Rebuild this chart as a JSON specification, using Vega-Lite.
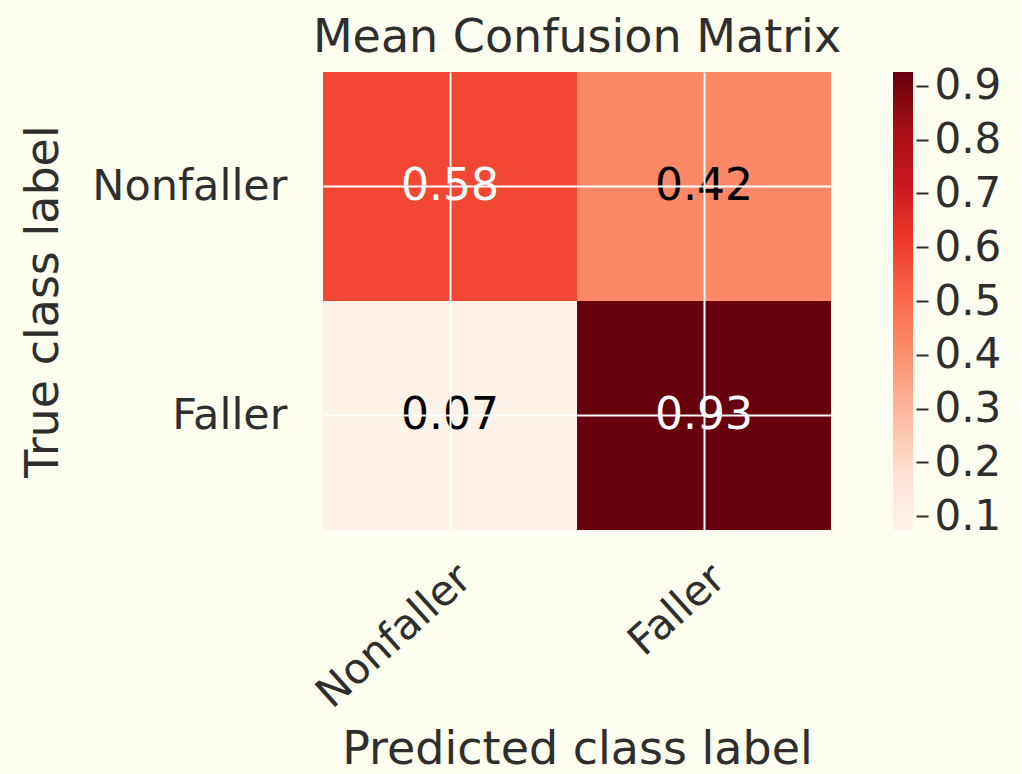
{
  "$schema": "https://vega.github.io/schema/vega-lite/v6.json",
  "background": "#fdfdf0",
  "padding": {"left": 20, "top": 15, "right": 20, "bottom": 4},
  "config": {
    "font": "DejaVu Sans",
    "view": {"stroke": null},
    "axis": {"labelColor": "#2e2e2e", "titleColor": "#2e2e2e", "titleFontWeight": "normal", "labelLimit": 400},
    "title": {"color": "#2e2e2e", "fontWeight": "normal"}
  },
  "datasets": {
    "cm": [
      {"actual": "Nonfaller", "predicted": "Nonfaller", "value": 0.58},
      {"actual": "Nonfaller", "predicted": "Faller", "value": 0.42},
      {"actual": "Faller", "predicted": "Nonfaller", "value": 0.074},
      {"actual": "Faller", "predicted": "Faller", "value": 0.926}
    ],
    "bar": [{"lo": 0.074, "hi": 0.926}]
  },
  "bounds": "flush",
  "spacing": 62,
  "hconcat": [
    {
      "width": 508,
      "height": 458,
      "title": {"text": "Mean Confusion Matrix", "fontSize": 46, "offset": 10},
      "data": {"name": "cm"},
      "encoding": {
        "x": {
          "field": "predicted", "type": "nominal", "sort": ["Nonfaller", "Faller"],
          "scale": {"paddingInner": 0, "paddingOuter": 0},
          "axis": {
            "title": "Predicted class label", "titleFontSize": 46, "titlePadding": 12,
            "labelFontSize": 42, "labelAngle": -42, "labelAlign": "right", "labelBaseline": "middle",
            "labelOffset": 15, "labelPadding": 42, "labelLimit": 400,
            "domain": false, "ticks": false,
            "grid": true, "gridColor": "#ffffff", "gridWidth": 2, "bandPosition": 0.5, "zindex": 1
          }
        },
        "y": {
          "field": "actual", "type": "nominal", "sort": ["Nonfaller", "Faller"],
          "scale": {"paddingInner": 0, "paddingOuter": 0},
          "axis": {
            "title": "True class label", "titleFontSize": 46, "titlePadding": 56,
            "labelFontSize": 43, "labelAngle": 0, "labelPadding": 36, "labelLimit": 400,
            "domain": false, "ticks": false,
            "grid": true, "gridColor": "#ffffff", "gridWidth": 2, "bandPosition": 0.5, "zindex": 1
          }
        }
      },
      "layer": [
        {
          "mark": {"type": "rect"},
          "encoding": {
            "color": {
              "field": "value", "type": "quantitative",
              "scale": {"domain": [0.074, 0.926], "range": ["#fef3e8", "#fee0d2", "#fcbba1", "#fc9272", "#fb6a4a", "#ef3b2c", "#cb181d", "#a50f15", "#67000d"], "interpolate": "rgb"},
              "legend": null
            }
          }
        },
        {
          "mark": {"type": "text", "fontSize": 44},
          "encoding": {
            "text": {"field": "value", "type": "quantitative", "format": ".2f"},
            "color": {"condition": {"test": "datum.value > 0.465", "value": "#ffffff"}, "value": "#000000"}
          }
        }
      ]
    },
    {
      "width": 20,
      "height": 458,
      "data": {"name": "bar"},
      "mark": {
        "type": "rect",
        "color": {
          "gradient": "linear", "x1": 0, "y1": 1, "x2": 0, "y2": 0,
          "stops": [
            {"offset": 0, "color": "#fef3e8"},
            {"offset": 0.125, "color": "#fee0d2"},
            {"offset": 0.25, "color": "#fcbba1"},
            {"offset": 0.375, "color": "#fc9272"},
            {"offset": 0.5, "color": "#fb6a4a"},
            {"offset": 0.625, "color": "#ef3b2c"},
            {"offset": 0.75, "color": "#cb181d"},
            {"offset": 0.875, "color": "#a50f15"},
            {"offset": 1, "color": "#67000d"}
          ]
        }
      },
      "encoding": {
        "y": {
          "field": "lo", "type": "quantitative",
          "scale": {"domain": [0.074, 0.926], "nice": false, "zero": false},
          "axis": {
            "orient": "right", "title": null, "domain": false, "grid": false,
            "values": [0.1, 0.2, 0.3, 0.4, 0.5, 0.6, 0.7, 0.8, 0.9], "format": ".1f",
            "ticks": true, "tickSize": 12, "tickWidth": 2, "tickColor": "#2e2e2e", "offset": 3,
            "labelFontSize": 42, "labelPadding": 6
          }
        },
        "y2": {"field": "hi"}
      }
    }
  ]
}
